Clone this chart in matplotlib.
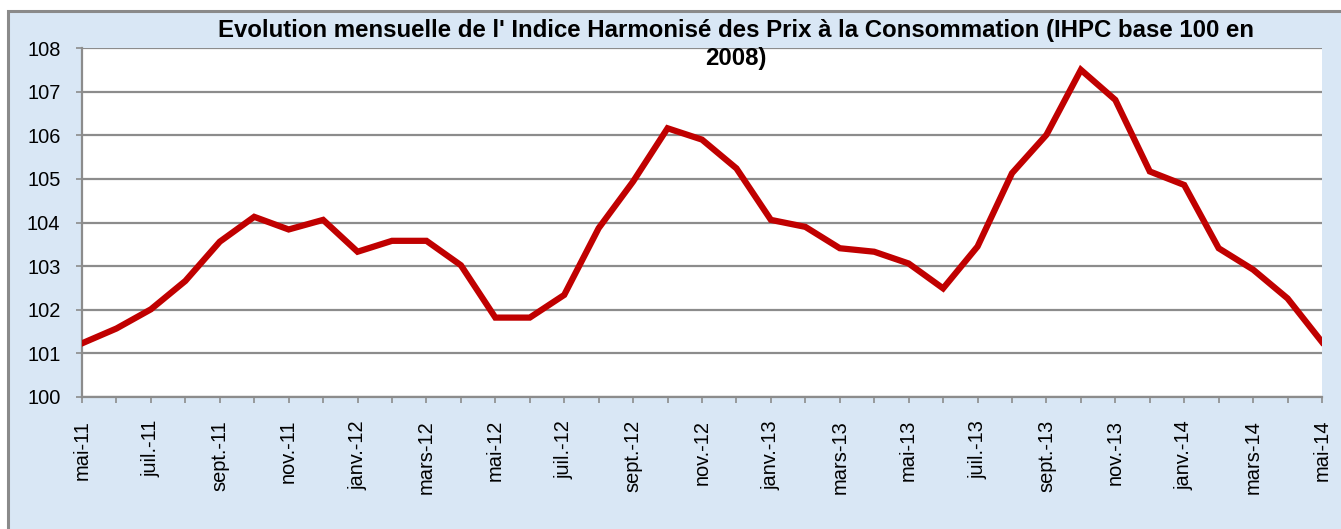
import matplotlib
matplotlib.use("Agg")
import matplotlib.pyplot as plt
from matplotlib.patches import Rectangle

months = ["mai-11", "juin-11", "juil.-11", "août-11", "sept.-11", "oct.-11", "nov.-11", "déc.-11",
          "janv.-12", "févr.-12", "mars-12", "avr.-12", "mai-12", "juin-12", "juil.-12", "août-12",
          "sept.-12", "oct.-12", "nov.-12", "déc.-12", "janv.-13", "févr.-13", "mars-13", "avr.-13",
          "mai-13", "juin-13", "juil.-13", "août-13", "sept.-13", "oct.-13", "nov.-13", "déc.-13",
          "janv.-14", "févr.-14", "mars-14", "avr.-14", "mai-14"]
ihpc = [101.23, 101.57, 102.01, 102.66, 103.56, 104.13, 103.84, 104.06,
        103.33, 103.58, 103.58, 103.02, 101.82, 101.82, 102.34, 103.87,
        104.94, 106.16, 105.90, 105.24, 104.06, 103.90, 103.41, 103.33,
        103.06, 102.49, 103.45, 105.13, 106.01, 107.50, 106.81, 105.17,
        104.86, 103.41, 102.92, 102.26, 101.26]
yticks = [100, 101, 102, 103, 104, 105, 106, 107, 108]
title = "Evolution mensuelle de l' Indice Harmonisé des Prix à la Consommation (IHPC base 100 en\n2008)"

plt.rcParams['font.family'] = ['Liberation Sans', 'DejaVu Sans']

W, H = 1341, 529
fig = plt.figure(figsize=(W / 100, H / 100), dpi=100, facecolor='white')

bg = '#d9e7f5'
frame = Rectangle((8 / W, -0.1), 1.2, 1 - 11 / H + 0.1, transform=fig.transFigure,
                  facecolor=bg, edgecolor='#8a8a8a', linewidth=2.2, zorder=-10)
fig.patches.append(frame)

ax = fig.add_axes([82 / W, (H - 397) / H, (1322 - 82) / W, (397 - 48) / H])
ax.set_zorder(1)
ax.set_facecolor('white')

x = list(range(len(months)))
ax.plot(x, ihpc, color='#c00000', linewidth=4.5, solid_joinstyle='miter', zorder=3)

ax.set_xlim(0, len(months) - 1)
ax.set_ylim(100, 108)
ax.set_yticks(yticks)
ax.set_yticklabels([str(v) for v in yticks])
ax.set_xticks(x)
ax.set_xticklabels([m if i % 2 == 0 else "" for i, m in enumerate(months)], rotation=90)

ax.grid(axis='y', color='#8c8c8c', linewidth=1.6, zorder=1)
ax.set_axisbelow(True)
for s in ['top', 'right']:
    ax.spines[s].set_visible(False)
for s in ['left', 'bottom']:
    ax.spines[s].set_color('#8c8c8c')
    ax.spines[s].set_linewidth(1.6)

ax.tick_params(axis='y', length=4.5, width=1.2, color='#8c8c8c', pad=11, labelsize=14.4)
ax.tick_params(axis='x', length=4, width=1.2, color='#8c8c8c', pad=12.5, labelsize=14.4)

fig.text(736 / W, 1 - 19 / H, title, ha='center', va='top', fontsize=17.3,
         fontweight='bold', linespacing=1.28, zorder=5)

fig.savefig('out.png', dpi=100, facecolor=fig.get_facecolor())
